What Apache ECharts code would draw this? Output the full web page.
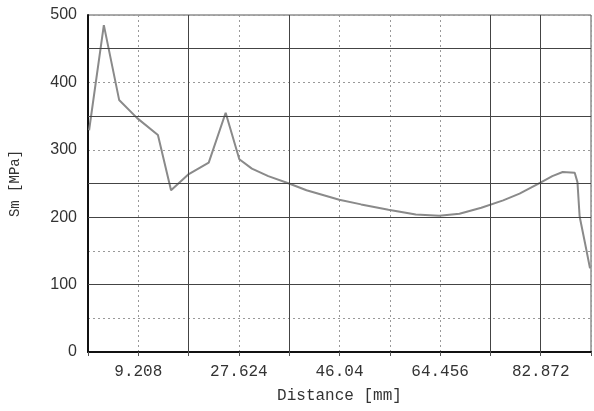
<!DOCTYPE html>
<html><head><meta charset="utf-8">
<script src="https://cdn.jsdelivr.net/npm/echarts@6/dist/echarts.min.js"></script>
<style>html,body{margin:0;padding:0;background:#fff}#c{width:594px;height:411px}</style>
</head><body><div id="c"></div>
<script>
// Distance [mm]
const distance = [0.2, 2.9, 5.7, 9.0, 12.8, 15.2, 18.3, 22.1, 25.2, 27.7, 30.0, 33.0, 36.8, 40.0, 46.0, 50.0, 55.0, 60.0, 64.3, 68.0, 72.0, 76.0, 79.0, 83.0, 85.0, 86.9, 89.1, 89.6, 90.0, 91.0, 91.9];
// Sm [MPa]
const sm = [329, 485, 374, 347, 322, 240, 263, 281, 355, 286, 272, 261, 250, 240, 226, 219, 211, 204, 202, 205, 214, 225, 235, 252, 261, 267, 266, 252, 201, 161, 124];
const xTickLabels = ['9.208', '27.624', '46.04', '64.456', '82.872'];
const yTickLabels = ['0', '100', '200', '300', '400', '500'];
const xStep = 9.208;
const xMax = 92.08;
const ySolid = [100, 200, 250, 350, 450];
const xSolid = [18.416, 36.832, 73.664, 82.872];

const chart = echarts.init(document.getElementById('c'));
const mono = 'Liberation Mono';
chart.setOption({
  animation: false,
  grid: {left: 88, right: 2, top: 15, bottom: 59, show: true, borderColor: '#555', borderWidth: 1},
  xAxis: {
    type: 'value', min: 0, max: xMax, interval: xStep,
    name: 'Distance [mm]', nameLocation: 'middle', nameGap: 36,
    nameTextStyle: {fontFamily: mono, fontSize: 16, color: '#333'},
    axisLine: {show: true, onZero: false, lineStyle: {color: '#111', width: 2}},
    axisTick: {show: true, length: 4, lineStyle: {color: '#555'}},
    axisLabel: {
      margin: 12, fontFamily: mono, fontSize: 16, color: '#333',
      formatter: function (v) {
        const s = v.toFixed(3).replace(/0+$/, '').replace(/\.$/, '');
        return xTickLabels.indexOf(s) >= 0 ? s : '';
      }
    },
    splitLine: {show: true, lineStyle: {color: '#999', type: [2, 3], width: 1}}
  },
  yAxis: {
    type: 'value', min: 0, max: 500, interval: 50,
    name: 'Sm [MPa]', nameLocation: 'middle', nameGap: 66,
    nameTextStyle: {fontFamily: mono, fontSize: 14, color: '#333'},
    axisLine: {show: true, lineStyle: {color: '#111', width: 2}},
    axisTick: {show: false},
    axisLabel: {
      margin: 11, fontFamily: 'Liberation Sans', fontSize: 16, color: '#333',
      formatter: function (v) {
        const s = String(Math.round(v));
        return yTickLabels.indexOf(s) >= 0 ? s : '';
      }
    },
    splitLine: {show: true, lineStyle: {color: '#999', type: [2, 3], width: 1}}
  },
  series: [{
    type: 'line',
    data: distance.map((d, i) => [d, sm[i]]),
    showSymbol: false,
    lineStyle: {color: '#8a8a8a', width: 2},
    markLine: {
      silent: true, symbol: 'none', label: {show: false},
      lineStyle: {color: '#444', type: 'solid', width: 1},
      data: ySolid.map(v => ({yAxis: v})).concat(xSolid.map(v => ({xAxis: v})))
    },
    z: 3
  }]
});
</script></body></html>
